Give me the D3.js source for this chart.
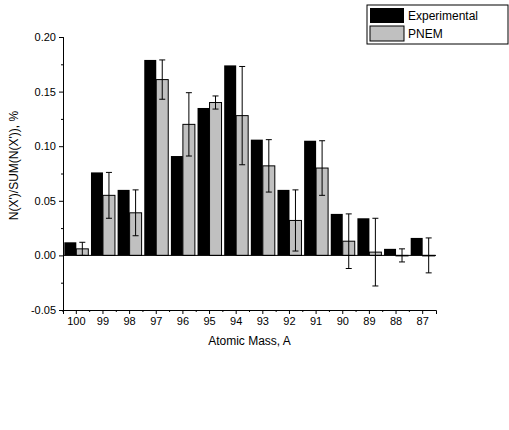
<!DOCTYPE html><html><head><meta charset="utf-8"><script src="https://d3js.org/d3.v7.min.js"></script>
<style>body{margin:0;background:#fff}text{font-family:Arial,"Liberation Sans",sans-serif}</style></head><body><svg id="c" width="509" height="430"></svg>
<script>
const categories=["100","99","98","97","96","95","94","93","92","91","90","89","88","87"];
const experimental=[0.012,0.076,0.060,0.179,0.091,0.135,0.174,0.106,0.060,0.105,0.038,0.034,0.006,0.016];
const pnem=[0.006,0.055,0.039,0.161,0.120,0.140,0.128,0.082,0.032,0.080,0.013,0.003,0.000,0.000];
const pnemErr=[0.006,0.021,0.021,0.018,0.029,0.006,0.045,0.024,0.028,0.025,0.025,0.031,0.006,0.016];
const yTicks=[-0.05,0,0.05,0.10,0.15,0.20];
const svg=d3.select("#c");
const L=63,R=436,T=37,B=310;
const x=d3.scaleBand().domain(categories).range([L,R]).paddingInner(0.1).paddingOuter(0.05);
const y=d3.scaleLinear().domain([-0.05,0.20]).range([B,T]);
const bw=x.bandwidth()/2;
svg.append("g").selectAll("rect").data(categories).join("rect")
 .attr("x",d=>x(d)).attr("width",bw).attr("y",(d,i)=>y(experimental[i])).attr("height",(d,i)=>y(0)-y(experimental[i]))
 .attr("fill","#000");
svg.append("g").selectAll("rect").data(categories).join("rect")
 .attr("x",d=>x(d)+bw).attr("width",bw).attr("y",(d,i)=>y(pnem[i])).attr("height",(d,i)=>Math.max(0.5,y(0)-y(pnem[i])))
 .attr("fill","#c0c0c0").attr("stroke","#000").attr("stroke-width",1);
const eg=svg.append("g").attr("stroke","#000").attr("stroke-width",1);
categories.forEach((c,i)=>{const cx=x(c)+bw*1.5,y1=y(pnem[i]+pnemErr[i]),y2=y(pnem[i]-pnemErr[i]);
 eg.append("line").attr("x1",cx).attr("x2",cx).attr("y1",y1).attr("y2",y2);
 [y1,y2].forEach(v=>eg.append("line").attr("x1",cx-3).attr("x2",cx+3).attr("y1",v).attr("y2",v));});
svg.append("line").attr("x1",L).attr("x2",R).attr("y1",y(0)).attr("y2",y(0)).attr("stroke","#000");
const ya=svg.append("g").attr("transform",`translate(${L},0)`).call(d3.axisLeft(y).tickValues(yTicks).tickFormat(d=>d3.format(".2f")(d).replace("\u2212","-")).tickSize(4));
svg.append("g").attr("transform",`translate(${L},0)`).call(d3.axisLeft(y).tickValues(d3.range(-0.025,0.2,0.05)).tickFormat("").tickSize(2));
ya.selectAll("text").attr("font-size",11);
const xa=svg.append("g").attr("transform",`translate(0,${B})`).call(d3.axisBottom(x).tickSize(4));
xa.selectAll("text").attr("font-size",11);
const step=x.step();
svg.append("g").selectAll("line").data(categories).join("line").attr("x1",d=>x(d)-x.paddingInner()*step/2).attr("x2",d=>x(d)-x.paddingInner()*step/2)
 .attr("y1",B).attr("y2",B+2).attr("stroke","#000");
svg.selectAll(".domain").attr("stroke","#000");
svg.append("text").attr("x",(L+R)/2).attr("y",345).attr("text-anchor","middle").attr("font-size",12).text("Atomic Mass, A");
svg.append("text").attr("transform",`translate(18,${(T+B)/2-8}) rotate(-90)`).attr("text-anchor","middle").attr("font-size",12).text("N(X')/SUM(N(X')), %");
const lg=svg.append("g");
lg.append("rect").attr("x",367).attr("y",5).attr("width",141).attr("height",39).attr("fill","#fff").attr("stroke","#000");
lg.append("rect").attr("x",370).attr("y",8).attr("width",34).attr("height",15).attr("fill","#000");
lg.append("rect").attr("x",370).attr("y",26).attr("width",34).attr("height",15).attr("fill","#c0c0c0").attr("stroke","#000");
lg.append("text").attr("x",408).attr("y",20).attr("font-size",12).text("Experimental");
lg.append("text").attr("x",408).attr("y",38).attr("font-size",12).text("PNEM");
</script></body></html>
